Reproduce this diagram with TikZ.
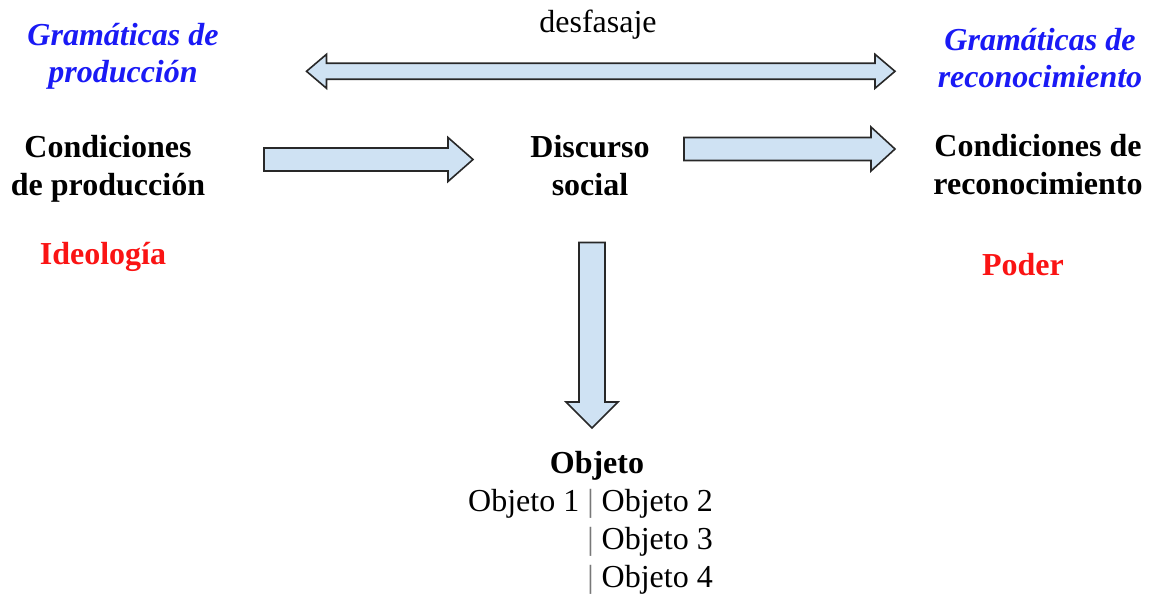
\documentclass[tikz,border=0pt]{standalone}
\usepackage{fontspec}
\setmainfont{Liberation Serif}
\usetikzlibrary{calc}
\definecolor{gblue}{RGB}{26,26,245}
\definecolor{gred}{RGB}{250,20,20}
\definecolor{afill}{RGB}{207,226,243}
\definecolor{aline}{RGB}{40,40,40}
\definecolor{bargray}{RGB}{120,120,120}
\tikzset{
  barrow/.style={draw=aline, fill=afill, line width=1.6pt, line join=miter},
  txt/.style={inner sep=0pt, anchor=base, align=center, font=\fontsize{32}{38}\selectfont},
  gram/.style={txt, text=gblue, font=\fontsize{32}{37}\selectfont\bfseries\itshape},
  cond/.style={txt, font=\fontsize{32}{38}\selectfont\bfseries},
  redlab/.style={txt, text=gred, font=\fontsize{32}{38}\selectfont\bfseries},
}
\newcommand\blockarr[5]{% start, end, shaft half, head half, head length
  \coordinate (hb) at ($(#2)!#5!(#1)$);
  \draw[barrow] ($(#1)!#3!90:(#2)$) -- ($(hb)!#3!90:(#2)$) -- ($(hb)!#4!90:(#2)$) -- (#2)
    -- ($(hb)!#4!-90:(#2)$) -- ($(hb)!#3!-90:(#2)$) -- ($(#1)!#3!-90:(#2)$) -- cycle;}
\newcommand\dblarr[5]{% end a, end b, shaft half, head half, head length
  \coordinate (hba) at ($(#1)!#5!(#2)$);
  \coordinate (hbb) at ($(#2)!#5!(#1)$);
  \draw[barrow] (#1) -- ($(hba)!#4!90:(#2)$) -- ($(hba)!#3!90:(#2)$) -- ($(hbb)!#3!90:(#2)$)
    -- ($(hbb)!#4!90:(#2)$) -- (#2) -- ($(hbb)!#4!-90:(#2)$) -- ($(hbb)!#3!-90:(#2)$)
    -- ($(hba)!#3!-90:(#2)$) -- ($(hba)!#4!-90:(#2)$) -- cycle;}
\begin{document}
\begin{tikzpicture}[x=1pt, y=-1pt]
\path[use as bounding box, fill=white] (0,0) rectangle (1154,599);

% texts (base anchor = baseline of the last line)
\node[gram] (gp) at (123,83) {Gramáticas de\\producción};
\node[gram] (gr) at (1040,88) {Gramáticas de\\reconocimiento};
\node[txt] (desf) at (598,33) {desfasaje};
\node[cond] (cp) at (108,195) {Condiciones\\de producción};
\node[cond] (ds) at (590,195) {Discurso\\social};
\node[cond] (cr) at (1038,194) {Condiciones de\\reconocimiento};
\node[redlab] (ideo) at (103,264) {Ideología};
\node[redlab] (poder) at (1023,275) {Poder};
\node[cond] (obj) at (597,473) {Objeto};
\node[txt, anchor=base east, align=right] (objs) at (713,587)
  {Objeto 1 {\color{bargray}|} Objeto 2\\{\color{bargray}|} Objeto 3\\{\color{bargray}|} Objeto 4};

% arrow end points
\coordinate (d1) at (306.5,71.3);
\coordinate (d2) at (895,71.3);
\coordinate (a1s) at (264,159.5);
\coordinate (a1e) at (473,159.5);
\coordinate (a2s) at (684,149);
\coordinate (a2e) at (895,149);
\coordinate (a3s) at (592,242.5);
\coordinate (a3e) at (592,428);

\dblarr{d1}{d2}{8pt}{17pt}{20pt}
\blockarr{a1s}{a1e}{11.5pt}{22pt}{25pt}
\blockarr{a2s}{a2e}{11.5pt}{22pt}{24pt}
\blockarr{a3s}{a3e}{13pt}{26pt}{26pt}
\end{tikzpicture}
\end{document}
